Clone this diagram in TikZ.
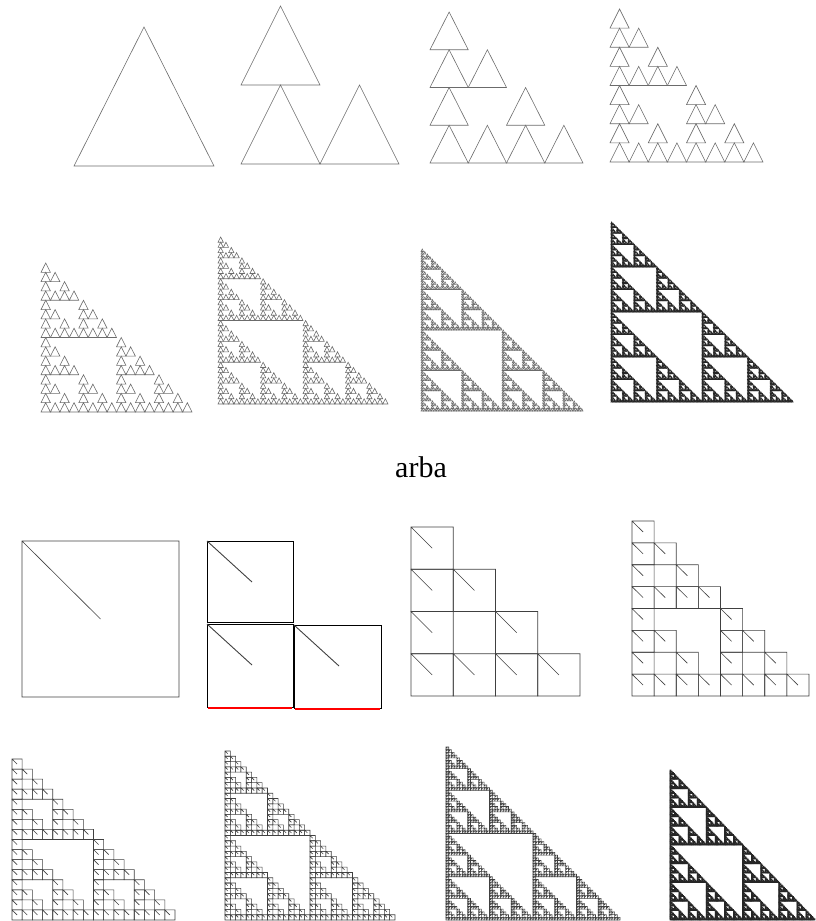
\documentclass[tikz,border=0pt]{standalone}
\usepackage{fontspec}
\setmainfont{Liberation Serif}

% one block of the triangle pattern: level, left, bottom, width, height
\newcommand\sptri[5]{%
  \ifnum#1=0\relax
    \pgfpathmoveto{\pgfqpoint{#2}{#3}}%
    \pgfpathlineto{\pgfqpoint{\dimexpr#2+#4\relax}{#3}}%
    \pgfpathlineto{\pgfqpoint{\dimexpr#2+#4/2\relax}{\dimexpr#3+#5\relax}}%
    \pgfpathclose
    \pgfusepath{stroke}%
  \else
    \edef\spnext{%
      \noexpand\sptri{\the\numexpr#1-1\relax}{#2}{#3}{\the\dimexpr#4/2\relax}{\the\dimexpr#5/2\relax}%
      \noexpand\sptri{\the\numexpr#1-1\relax}{\the\dimexpr#2+#4/2\relax}{#3}{\the\dimexpr#4/2\relax}{\the\dimexpr#5/2\relax}%
      \noexpand\sptri{\the\numexpr#1-1\relax}{#2}{\the\dimexpr#3+#5/2\relax}{\the\dimexpr#4/2\relax}{\the\dimexpr#5/2\relax}}%
    \spnext
  \fi}

% same for the square pattern
\newcommand\spsq[5]{%
  \ifnum#1=0\relax
    \pgfpathrectangle{\pgfqpoint{#2}{#3}}{\pgfqpoint{#4}{#5}}%
    \pgfpathmoveto{\pgfqpoint{#2}{\dimexpr#3+#5\relax}}%
    \pgfpathlineto{\pgfqpoint{\dimexpr#2+#4/2\relax}{\dimexpr#3+#5/2\relax}}%
    \pgfusepath{stroke}%
  \else
    \edef\spnext{%
      \noexpand\spsq{\the\numexpr#1-1\relax}{#2}{#3}{\the\dimexpr#4/2\relax}{\the\dimexpr#5/2\relax}%
      \noexpand\spsq{\the\numexpr#1-1\relax}{\the\dimexpr#2+#4/2\relax}{#3}{\the\dimexpr#4/2\relax}{\the\dimexpr#5/2\relax}%
      \noexpand\spsq{\the\numexpr#1-1\relax}{#2}{\the\dimexpr#3+#5/2\relax}{\the\dimexpr#4/2\relax}{\the\dimexpr#5/2\relax}}%
    \spnext
  \fi}

\begin{document}
\begin{tikzpicture}[
  x=1pt, y=1pt,
  triline/.style={color=black!58, line width=0.6pt},
  sqline/.style={color=black!75, line width=0.6pt},
  denseline/.style={color=black!85, line width=0.7pt},
  shot/.style={draw=black, line width=0.9pt},
  redline/.style={draw=red, line width=1.4pt}
]
\useasboundingbox (0,0) rectangle (815,-921);

% triangles
\begin{scope}[triline]
\sptri{0}{74pt}{-166pt}{140pt}{139pt}
\sptri{1}{241pt}{-164pt}{158pt}{158pt}
\sptri{2}{430pt}{-163pt}{153pt}{151pt}
\sptri{3}{610pt}{-162pt}{153pt}{153pt}
\sptri{4}{41pt}{-412pt}{151pt}{149pt}
\sptri{5}{218pt}{-404pt}{170pt}{167pt}
\sptri{6}{421pt}{-411pt}{162pt}{162pt}
\end{scope}
\begin{scope}[denseline]
\sptri{7}{611pt}{-402pt}{182pt}{180pt}
\end{scope}

\node[font=\fontsize{30}{36}\selectfont] (arba) at (421,-467) {arba};

% squares
\begin{scope}[sqline]
\spsq{0}{22pt}{-697pt}{157pt}{156pt}
\spsq{2}{411pt}{-696pt}{169pt}{169pt}
\spsq{3}{632pt}{-696pt}{177pt}{175pt}
\spsq{4}{12pt}{-920pt}{163pt}{161pt}
\spsq{5}{225pt}{-920pt}{170pt}{169pt}
\spsq{6}{446pt}{-920pt}{174pt}{173pt}
\end{scope}
\begin{scope}[denseline]
\spsq{7}{670pt}{-920pt}{145pt}{150pt}
\end{scope}

% second square step, as a pasted shot
\draw[shot] (207,-541) rectangle (293,-622);
\draw[shot] (207,-624) rectangle (293,-707);
\draw[shot] (294,-625) rectangle (381,-708);
\draw[shot, black!75] (207,-541) -- (252,-582);
\draw[shot, black!75] (207,-624) -- (252,-665);
\draw[shot, black!75] (294,-625) -- (339,-666);
\draw[redline] (208,-707.9) -- (292,-707.9);
\draw[redline] (295,-708.9) -- (380,-708.9);
\end{tikzpicture}
\end{document}
